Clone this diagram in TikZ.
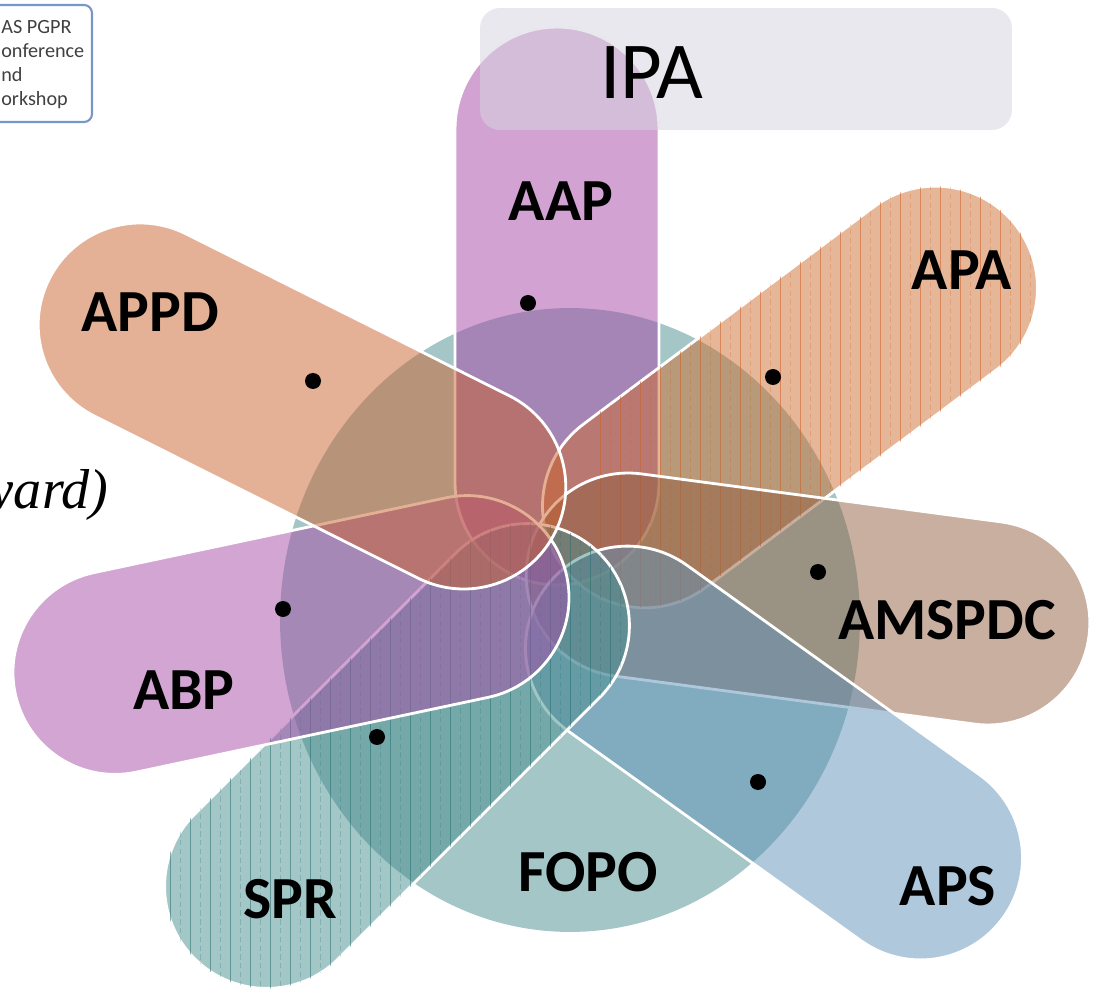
\documentclass[tikz,border=0pt]{standalone}
\usepackage{fontspec}
\setmainfont{Carlito}
\newfontfamily\wardfont{Liberation Serif}
\usetikzlibrary{shapes.misc,shapes.geometric}

\definecolor{fopocol}{RGB}{75,141,141}
\definecolor{aapcol}{RGB}{165,69,165}
\definecolor{apacol}{RGB}{205,109,49}
\definecolor{amspdccol}{RGB}{145,95,65}
\definecolor{apscol}{RGB}{95,145,185}
\definecolor{sprcol}{RGB}{71,141,141}
\definecolor{abpcol}{RGB}{168,75,168}
\definecolor{appdcol}{RGB}{201,97,45}
\definecolor{ipacol}{RGB}{213,213,224}
\definecolor{framecol}{RGB}{120,150,200}
\definecolor{apaline}{RGB}{205,95,35}
\definecolor{sprline}{RGB}{40,112,112}

\tikzset{
  petal/.style={rounded rectangle, draw=white, line width=1.6pt,
    fill opacity=0.5, minimum height=4.08cm, inner sep=0pt},
  lbl/.style={font=\fontsize{34}{40}\selectfont\bfseries, inner sep=0pt},
  dot/.style={circle, fill=black, inner sep=0pt, minimum size=0.32cm},
  stripe/.style={line width=0.5pt, opacity=0.55},
  faintstripe/.style={line width=0.4pt, opacity=0.25, densely dashed}
}

\begin{document}
\begin{tikzpicture}[x=0.02cm, y=-0.02cm]
  \useasboundingbox (0,0) rectangle (1099,989);
  \clip (0,0) rectangle (1099,989);

  % cut-off pieces at the left
  \draw[framecol, line width=1.2pt, rounded corners=0.16cm] (-30,5) rectangle (92,122);
  \node[anchor=north west, align=left, inner sep=0pt, text=black!75,
    font=\fontsize{11.5}{13.6}\selectfont] (conf) at (1,20)
    {AS PGPR\\onference\\nd\\orkshop};
  \node[anchor=base east, inner sep=0pt,
    font=\wardfont\itshape\fontsize{32}{38}\selectfont] (ward) at (109,509) {ward)};

  \node[ellipse, fill=fopocol, fill opacity=0.5, minimum width=11.6cm,
    minimum height=12.48cm, inner sep=0pt] (fopo) at (570,620) {};

  \node[petal, fill=aapcol, rotate=90, minimum width=11.16cm] (aap) at (557,306) {};
  \node[petal, fill=apacol, rotate=36.8, minimum width=11.35cm] (apa) at (790,397) {};
  \begin{scope}
    \clip[shift={(790,397)}, rotate=36.8, rounded corners=2.04cm]
      (-283.5,-102) rectangle (283.5,102);
    \foreach \x in {600,620,...,1060}
      \draw[stripe, apaline] (\x,150) -- (\x,650);
    \foreach \x in {610,630,...,1070}
      \draw[faintstripe, apaline] (\x,150) -- (\x,650);
  \end{scope}
  \node[petal, fill=amspdccol, rotate=-7.6, minimum width=11.34cm] (amspdc) at (808,599) {};
  \node[petal, fill=apscol, rotate=-35.6, minimum width=11.29cm] (aps) at (774,753) {};
  \node[petal, fill=sprcol, rotate=-135, minimum width=11.46cm] (spr) at (397,756) {};
  \begin{scope}
    \clip[shift={(397,756)}, rotate=-135, rounded corners=2.04cm]
      (-286.5,-102) rectangle (286.5,102);
    \foreach \x in {150,170,...,660}
      \draw[stripe, sprline] (\x,480) -- (\x,989);
    \foreach \x in {160,180,...,660}
      \draw[faintstripe, sprline] (\x,480) -- (\x,989);
  \end{scope}
  \node[petal, fill=abpcol, rotate=192, minimum width=11.28cm] (abp) at (291,635) {};
  \node[petal, fill=appdcol, rotate=153.4, minimum width=11.32cm] (appd) at (302,406) {};

  \node[fill=ipacol, fill opacity=0.55, rounded corners=0.4cm, minimum width=10.64cm,
    minimum height=2.44cm, inner sep=0pt] (ipabox) at (746,69) {};
  \node[font=\fontsize{46}{50}\selectfont, inner sep=0pt] (ipa) at (652,73) {IPA};

  \node[dot] (aapdot) at (528,303) {};
  \node[dot] (apadot) at (773,377) {};
  \node[dot] (amspdcdot) at (818,572) {};
  \node[dot] (apsdot) at (758,782) {};
  \node[dot] (sprdot) at (377,737) {};
  \node[dot] (abpdot) at (283,609) {};
  \node[dot] (appddot) at (313,381) {};

  \node[lbl] (aaplbl) at (561,201) {AAP};
  \node[lbl] (apalbl) at (962,270) {APA};
  \node[lbl] (amspdclbl) at (947,620) {AMSPDC};
  \node[lbl] (apslbl) at (948,886) {APS};
  \node[lbl] (fopolbl) at (588,872) {FOPO};
  \node[lbl] (sprlbl) at (290,899) {SPR};
  \node[lbl] (abplbl) at (184,690) {ABP};
  \node[lbl] (appdlbl) at (150,312) {APPD};
\end{tikzpicture}
\end{document}
